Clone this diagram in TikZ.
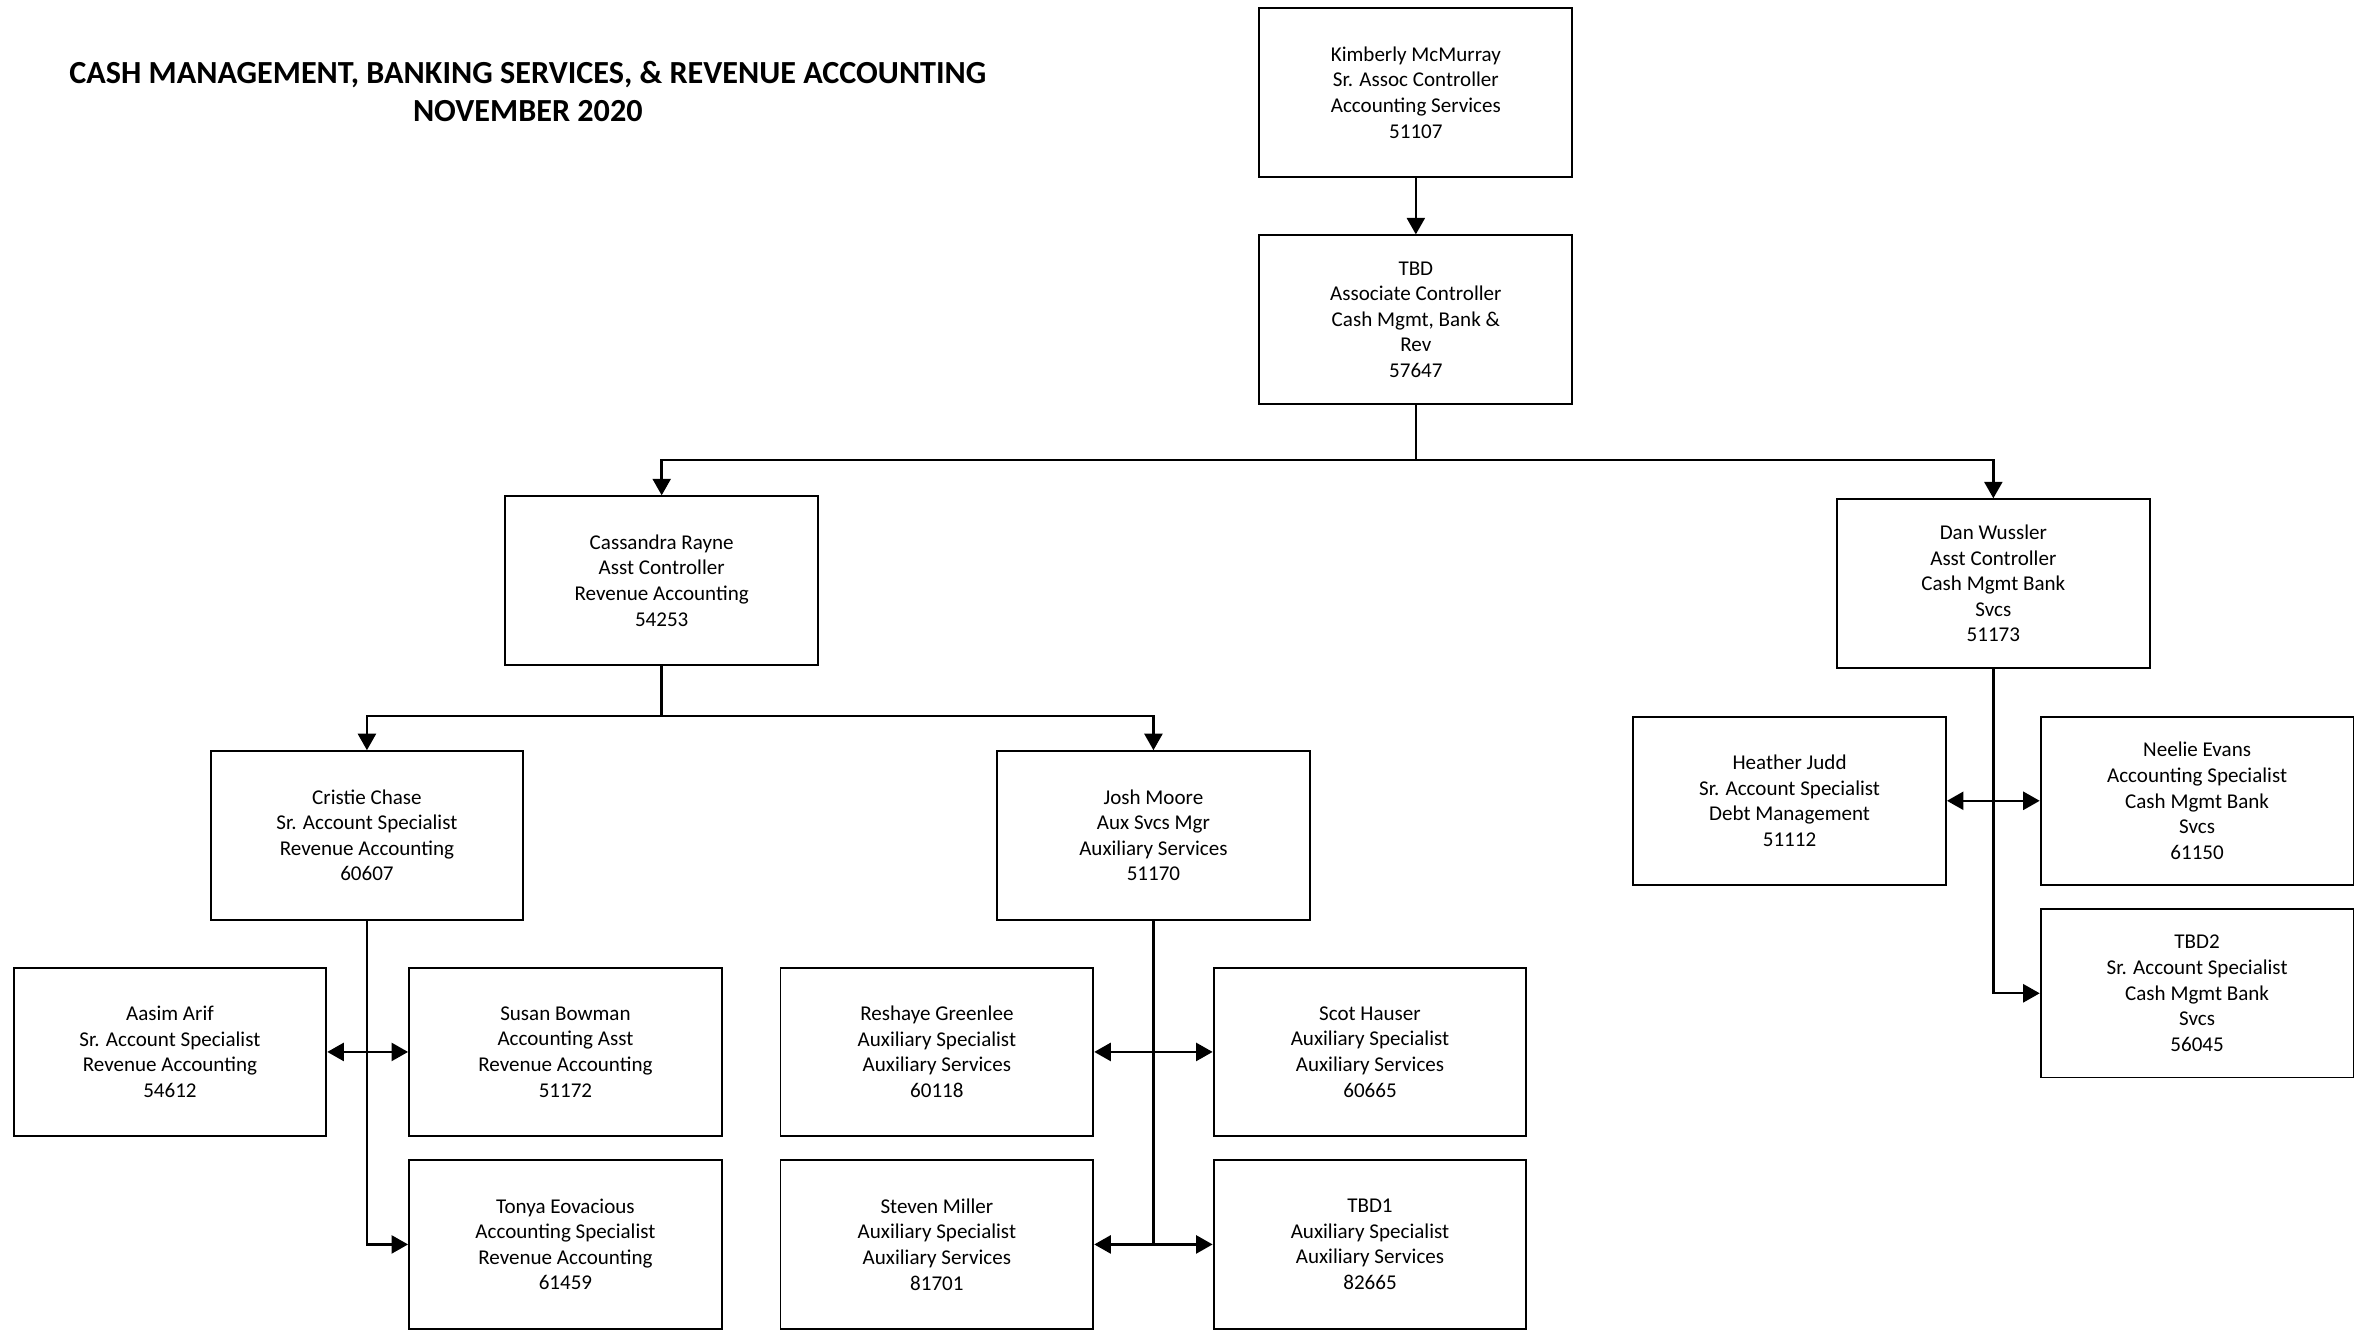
\documentclass[tikz,border=0pt]{standalone}
\usepackage{fontspec}
\setmainfont{Carlito}
\usetikzlibrary{arrows.meta,positioning}

\begin{document}
\begin{tikzpicture}[x=1pt,y=1pt,
                    person/.style={draw=black,line width=1.3pt,minimum width=208pt,minimum height=112pt,
                                   align=center,inner sep=0pt,font=\fontsize{14}{17}\selectfont},
                    link/.style={black,line width=1.6pt},
                    tip/.style={-{Triangle[length=11pt,width=12pt]}},
                    twotip/.style={{Triangle[length=11pt,width=12pt]}-{Triangle[length=11pt,width=12pt]}}]
                    \useasboundingbox (0,0) rectangle (1568,-883.8);
                    \node (title) [align=center,font=\fontsize{21.4}{25}\selectfont\bfseries] at (351,-61)
                        {CASH MANAGEMENT, BANKING SERVICES, \& REVENUE ACCOUNTING\\NOVEMBER 2020};
                    % top of the chart
                    \node [person] (kimberly) at (941.5,-61.5) {Kimberly McMurray\\Sr. Assoc Controller\\Accounting Services\\51107};
                    \node [person] (tbd) at (941.5,-212.5) {TBD\\Associate Controller\\Cash Mgmt, Bank \&\\Rev\\57647};
                    \node [person] (cassandra) at (440,-386) {Cassandra Rayne\\Asst Controller\\Revenue Accounting\\54253};
                    \node [person] (dan) at (1325.5,-388) {Dan Wussler\\Asst Controller\\Cash Mgmt Bank\\Svcs\\51173};
                    % revenue accounting
                    \node [person] (cristie) at (244,-555.5) {Cristie Chase\\Sr. Account Specialist\\Revenue Accounting\\60607};
                    \node [person] (josh) at (767,-555.5) {Josh Moore\\Aux Svcs Mgr\\Auxiliary Services\\51170};
                    \node [person] (aasim) at (113,-699.5) {Aasim Arif\\Sr. Account Specialist\\Revenue Accounting\\54612};
                    \node [person] (susan) at (376,-699.5) {Susan Bowman\\Accounting Asst\\Revenue Accounting\\51172};
                    \node [person] (tonya) at (376,-827.5) {Tonya Eovacious\\Accounting Specialist\\Revenue Accounting\\61459};
                    \node [person] (reshaye) at (623,-699.5) {Reshaye Greenlee\\Auxiliary Specialist\\Auxiliary Services\\60118};
                    \node [person] (scot) at (911,-699.5) {Scot Hauser\\Auxiliary Specialist\\Auxiliary Services\\60665};
                    \node [person] (steven) at (623,-827.5) {Steven Miller\\Auxiliary Specialist\\Auxiliary Services\\81701};
                    \node [person] (tbdone) at (911,-827.5) {TBD1\\Auxiliary Specialist\\Auxiliary Services\\82665};
                    % cash management
                    \node [person] (heather) at (1190,-532.5) {Heather Judd\\Sr. Account Specialist\\Debt Management\\51112};
                    \node [person] (neelie) at (1461,-532.5) {Neelie Evans\\Accounting Specialist\\Cash Mgmt Bank\\Svcs\\61150};
                    \node [person] (tbdtwo) at (1461,-660.5) {TBD2\\Sr. Account Specialist\\Cash Mgmt Bank\\Svcs\\56045};
                    % connectors
                    \coordinate (split1) at (941.5,-306);
                    \coordinate (split2) at (440,-476);
                    \coordinate (joshend) at (767,-827.5);
                    \draw [link,tip] (kimberly) -- (tbd);
                    \draw [link] (tbd) -- (split1);
                    \draw [link,tip] (split1) -| (cassandra);
                    \draw [link,tip] (split1) -| (dan);
                    \draw [link] (cassandra) -- (split2);
                    \draw [link,tip] (split2) -| (cristie);
                    \draw [link,tip] (split2) -| (josh);
                    \draw [link,tip] (cristie) |- (tonya);
                    \draw [link,twotip] (aasim) -- (susan);
                    \draw [link] (josh) -- (joshend);
                    \draw [link,twotip] (reshaye) -- (scot);
                    \draw [link,twotip] (steven) -- (tbdone);
                    \draw [link,tip] (dan) |- (tbdtwo);
                    \draw [link,twotip] (heather) -- (neelie);
                \end{tikzpicture}
\end{document}
